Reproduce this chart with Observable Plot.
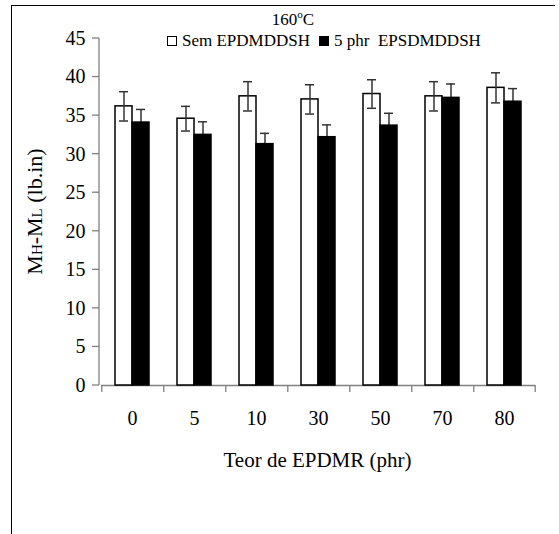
<!DOCTYPE html>
<html><head><meta charset="utf-8">
<script src="https://cdn.jsdelivr.net/npm/d3@7"></script>
<script src="https://cdn.jsdelivr.net/npm/@observablehq/plot@0.6"></script>
<style>
html,body{margin:0;padding:0;background:#fff;}
#wrap{position:relative;width:559px;height:534px;overflow:hidden;}
#chart{position:absolute;left:0;top:0;}
#chart svg, #chart svg text, #chart svg tspan{font-family:"Liberation Serif","Times New Roman",serif !important;}
#border{position:absolute;left:11px;top:5px;width:543px;height:560px;border-left:1px solid #000;border-top:1px solid #000;pointer-events:none;}
</style></head><body>
<div id="wrap"><div id="chart"></div><div id="border"></div></div>
<script>
// ---- data ----
const categories = ["0", "5", "10", "30", "50", "70", "80"];
const seriesNames = ["Sem EPDMDDSH", "5 phr  EPSDMDDSH"];
const semValues = [36.2, 34.6, 37.5, 37.1, 37.8, 37.5, 38.6];
const semErrors = [1.9, 1.6, 1.9, 1.9, 1.85, 1.9, 1.95];
const comValues = [34.1, 32.5, 31.3, 32.2, 33.7, 37.3, 36.8];
const comErrors = [1.7, 1.7, 1.4, 1.6, 1.6, 1.8, 1.7];
const yTicks = [0, 5, 10, 15, 20, 25, 30, 35, 40, 45];
const titleMain = "160", titleSup = "o", titleUnit = "C";
const xLabel = "Teor de EPDMR (phr)";
const yLabelParts = [["M", false], ["H", true], ["-M", false], ["L", true], [" (lb.in)", false]];

// ---- table ----
const rows = [];
categories.forEach((c, i) => {
  rows.push({cat: c, series: seriesNames[0], value: semValues[i], err: semErrors[i]});
  rows.push({cat: c, series: seriesNames[1], value: comValues[i], err: comErrors[i]});
});
const semRows = rows.filter(d => d.series === seriesNames[0]);
const comRows = rows.filter(d => d.series === seriesNames[1]);
const lastRow = comRows.filter(d => d.cat === categories[categories.length - 1]);

// ---- layout ----
const W = 559, H = 534, ML = 99, MR = 23, MT = 38, MB = 149;
const facetW = (W - ML - MR) / categories.length;
const barW = 18;
const padOuter = (facetW / barW - 2) / 2;
const edge = padOuter * barW + barW / 2;
const tickLen = 7;
const yMax = 45;
const tickData = -tickLen * yMax / (H - MT - MB);
const axisGray = "#808080";
const errColor = "#333";
const font = "Liberation Serif, Times New Roman, serif";

const plot = Plot.plot({
  width: W, height: H,
  marginLeft: ML, marginRight: MR, marginTop: MT, marginBottom: MB,
  style: {fontFamily: font, fontSize: "20px", color: "#000", background: "transparent", overflow: "visible"},
  fx: {domain: categories, paddingInner: 0, paddingOuter: 0, label: null, tickSize: 0, tickPadding: 25, axis: "bottom"},
  x: {domain: seriesNames, paddingInner: 0, paddingOuter: padOuter, axis: null},
  y: {domain: [0, yMax], ticks: yTicks, tickSize: 0, tickPadding: 9 + tickLen, label: null},
  color: {domain: seriesNames, range: ["#fff", "#000"]},
  marks: [
    Plot.ruleY([0], {stroke: axisGray, strokeWidth: 1.3}),
    // category boundary ticks
    Plot.ruleX(semRows, {fx: "cat", x: "series", y1: 0, y2: tickData, dx: -edge, stroke: axisGray, strokeWidth: 1.3}),
    Plot.ruleX(lastRow, {fx: "cat", x: "series", y1: 0, y2: tickData, dx: edge, stroke: axisGray, strokeWidth: 1.3}),
    // error bars of filled series (behind bars)
    Plot.ruleX(comRows, {fx: "cat", x: "series", y1: d => d.value - d.err, y2: d => d.value + d.err, stroke: errColor, strokeWidth: 1.5}),
    Plot.tickY(comRows, {fx: "cat", x: "series", y: d => d.value + d.err, stroke: errColor, strokeWidth: 1.5, insetLeft: 4, insetRight: 4}),
    // bars
    Plot.barY(rows, {fx: "cat", x: "series", y: "value", fill: "series", stroke: "#000", strokeWidth: 1.5}),
    // error bars of open series (in front)
    Plot.ruleX(semRows, {fx: "cat", x: "series", y1: d => d.value - d.err, y2: d => d.value + d.err, stroke: errColor, strokeWidth: 1.5}),
    Plot.tickY(semRows, {fx: "cat", x: "series", y: d => d.value + d.err, stroke: errColor, strokeWidth: 1.5, insetLeft: 4, insetRight: 4}),
    Plot.tickY(semRows, {fx: "cat", x: "series", y: d => d.value - d.err, stroke: errColor, strokeWidth: 1.5, insetLeft: 4, insetRight: 4})
  ]
});
document.getElementById("chart").appendChild(plot);

// y axis line and ticks positioned by the plot's y scale
const svg = d3.select(plot);
const y = plot.scale("y");
const yScale = v => y.apply(v);
const ax = svg.append("g").attr("stroke", axisGray).attr("stroke-width", 1.3);
ax.append("line").attr("x1", ML).attr("x2", ML).attr("y1", yScale(yMax)).attr("y2", yScale(0));
yTicks.forEach(t => ax.append("line").attr("x1", ML - tickLen).attr("x2", ML).attr("y1", yScale(t)).attr("y2", yScale(t)));

// x axis label
svg.append("text").attr("x", ML + (W - ML - MR) / 2).attr("y", 467)
  .attr("text-anchor", "middle").attr("font-size", 21).attr("fill", "#000").text(xLabel);

// y axis label
const yl = svg.append("text").attr("transform", `translate(42,${(yScale(0) + yScale(yMax)) / 2}) rotate(-90)`)
  .attr("text-anchor", "middle").attr("font-size", 22).attr("fill", "#000");
yLabelParts.forEach(([t, sub]) => yl.append("tspan").attr("font-size", sub ? 15 : 22).text(t));

// title
const tt = svg.append("text").attr("x", 293).attr("y", 25).attr("text-anchor", "middle")
  .attr("font-size", 17).attr("fill", "#000");
tt.append("tspan").text(titleMain);
tt.append("tspan").attr("font-size", 11).attr("dy", -7).text(titleSup);
tt.append("tspan").attr("dy", 7).text(titleUnit);

// legend
const leg = svg.append("g").attr("font-size", 17).attr("fill", "#000").attr("text-anchor", "start");
const legX = [167, 319];
seriesNames.forEach((s, i) => {
  leg.append("rect").attr("x", legX[i] + 0.5).attr("y", 36.5).attr("width", 9).attr("height", 9)
    .attr("fill", plot.scale("color").apply(s)).attr("stroke", "#000").attr("stroke-width", 1);
  leg.append("text").attr("x", legX[i] + 15).attr("y", 46).attr("text-anchor", "start")
    .style("white-space", "pre").text(s);
});
</script>
</body></html>
